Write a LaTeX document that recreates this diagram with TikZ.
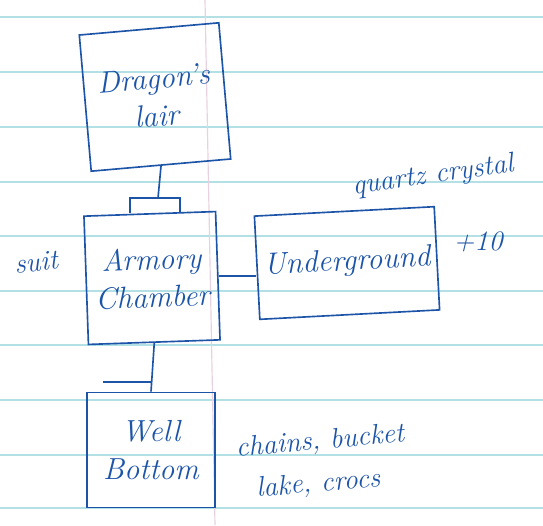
\documentclass[tikz,border=0pt]{standalone}
\usepackage{fontspec}
\usetikzlibrary{calc}
\definecolor{ink}{RGB}{28,84,168}
\definecolor{rule}{RGB}{178,224,228}
\definecolor{margin}{RGB}{232,210,224}
\begin{document}
\begin{tikzpicture}[x=0.03cm,y=-0.03cm,
  room/.style={draw=ink,line width=1.4pt,text=ink,align=center,inner sep=0pt,
    font=\fontsize{26}{32}\selectfont\itshape},
  note/.style={text=ink,align=left,font=\fontsize{24}{36}\selectfont\itshape}]
\useasboundingbox[fill=white] (0,0) rectangle (543,525);
\foreach \y in {17,72,127,182,236,291,345,400,455,508}{
  \draw[rule,line width=1.2pt] (0,\y) -- (543,\y);
}
\draw[margin,line width=1pt] (205,0) -- (215,525);
\node[room,minimum width=4.2cm,minimum height=4.1cm,rotate=5] (lair) at (155,97) {Dragon's\\lair};
\node[room,minimum width=3.95cm,minimum height=3.85cm,rotate=2] (armory) at (152,278) {Armory\\Chamber};
\node[room,minimum width=5.4cm,minimum height=3.1cm,rotate=3] (under) at (347,263) {Underground};
\node[room,minimum width=3.85cm,minimum height=3.45cm] (well) at (151,450) {Well\\Bottom};
\coordinate (cap) at (158,198);
\coordinate (hook) at (103,382);
\draw[ink,line width=1.4pt] (lair.south) -- (cap);
\draw[ink,line width=1.4pt] ($(armory.north)+(-20,0)$) |- (cap) -| ($(armory.north)+(30,0)$);
\draw[ink,line width=1.4pt] (armory.east) -- (armory.east -| under.west);
\draw[ink,line width=1.4pt] (armory.south) -- (well.north);
\draw[ink,line width=1.4pt] (hook) -- (hook -| well.north);
\node[note,rotate=6] (suit) at (36,262) {suit};
\node[note,rotate=8] (quartz) at (433,176) {quartz crystal};
\node[note] (plus) at (478,242) {+10};
\node[note,rotate=5] (chains) at (322,463) {chains, bucket\\\hspace{0.6em}lake, crocs};
\end{tikzpicture}
\end{document}
